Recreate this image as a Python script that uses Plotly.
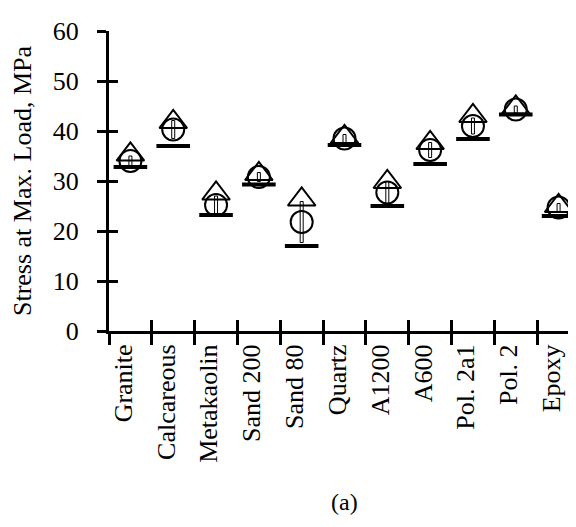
import plotly.graph_objects as go

categories = ["Granite", "Calcareous", "Metakaolin", "Sand 200", "Sand 80", "Quartz",
              "A1200", "A600", "Pol. 2a1", "Pol. 2", "Epoxy"]
mean_vals = [34.0, 40.3, 25.2, 30.8, 21.8, 38.5, 27.7, 36.2, 41.0, 44.3, 24.7]
max_vals = [35.3, 41.8, 27.5, 31.4, 26.3, 38.8, 29.8, 37.6, 43.0, 44.7, 25.0]
min_vals = [32.8, 37.0, 23.2, 29.3, 17.0, 37.2, 25.0, 33.4, 38.4, 43.3, 23.0]
sd_vals = [1.0, 1.8, 1.8, 0.9, 4.1, 0.8, 2.2, 1.5, 1.6, 0.7, 0.8]
y_ticks = [0, 10, 20, 30, 40, 50, 60]

FONT = "Liberation Serif, Times New Roman, serif"
n = len(categories)
boundaries = [i - 0.5 for i in range(n + 1)]

fig = go.Figure()

# thin standard-deviation box
fig.add_trace(go.Bar(
    x=categories,
    y=[2 * s for s in sd_vals],
    base=[m - s for m, s in zip(mean_vals, sd_vals)],
    width=0.07,
    marker=dict(color="rgba(255,255,255,0)", line=dict(color="black", width=1)),
    showlegend=False,
))
# minimum (horizontal bar)
fig.add_trace(go.Scatter(
    x=categories, y=min_vals, mode="markers",
    marker=dict(symbol="line-ew", size=24, line=dict(color="black", width=4)),
    showlegend=False,
))
# mean (circle)
fig.add_trace(go.Scatter(
    x=categories, y=mean_vals, mode="markers",
    marker=dict(symbol="circle-open", size=22, color="black", line=dict(color="black", width=2)),
    showlegend=False,
))
# maximum (triangle)
fig.add_trace(go.Scatter(
    x=categories, y=max_vals, mode="markers",
    marker=dict(symbol="triangle-up-open", size=24, color="black", line=dict(color="black", width=2)),
    showlegend=False,
))
# invisible trace on overlay axes (for inner ticks)
fig.add_trace(go.Scatter(x=[boundaries[0]], y=[0], xaxis="x2", yaxis="y2",
                         mode="markers", marker=dict(opacity=0), showlegend=False,
                         hoverinfo="skip"))

fig.update_layout(
    width=576, height=527,
    margin=dict(l=101, r=4, t=23, b=204),
    paper_bgcolor="white", plot_bgcolor="white",
    font=dict(family=FONT, size=26, color="black"),
    barmode="overlay",
    xaxis=dict(
        type="category", categoryorder="array", categoryarray=categories,
        range=[-0.5, n - 0.5],
        tickson="boundaries", ticks="outside", ticklen=11, tickwidth=3, tickcolor="black",
        showline=True, linewidth=3, linecolor="black",
        showgrid=False, zeroline=False, tickangle=-90,
        tickfont=dict(family=FONT, size=26, color="black"),
        ticklabelshift=-7,
        fixedrange=True,
    ),
    yaxis=dict(
        range=[0, 60], tickvals=y_ticks,
        ticks="outside", ticklen=9, tickwidth=3, tickcolor="black",
        showline=True, linewidth=3, linecolor="black",
        showgrid=False, zeroline=False,
        tickfont=dict(family=FONT, size=26, color="black"),
        ticklabelstandoff=13,
        title=dict(text="Stress at Max. Load, MPa", font=dict(family=FONT, size=26, color="black"),
                   standoff=14),
    ),
    xaxis2=dict(
        overlaying="x", range=[-0.5, n - 0.5], tickvals=boundaries,
        ticks="inside", ticklen=11, tickwidth=3, tickcolor="black",
        showticklabels=False, showline=False, showgrid=False, zeroline=False,
    ),
    yaxis2=dict(
        overlaying="y", range=[0, 60], tickvals=y_ticks,
        ticks="inside", ticklen=9, tickwidth=3, tickcolor="black",
        showticklabels=False, showline=False, showgrid=False, zeroline=False,
    ),
    annotations=[dict(text="(a)", x=0.5, y=-0.57, xref="paper", yref="paper",
                      xanchor="center", yanchor="middle", showarrow=False,
                      font=dict(family=FONT, size=24, color="black"))],
)

fig.write_html("out.html")
